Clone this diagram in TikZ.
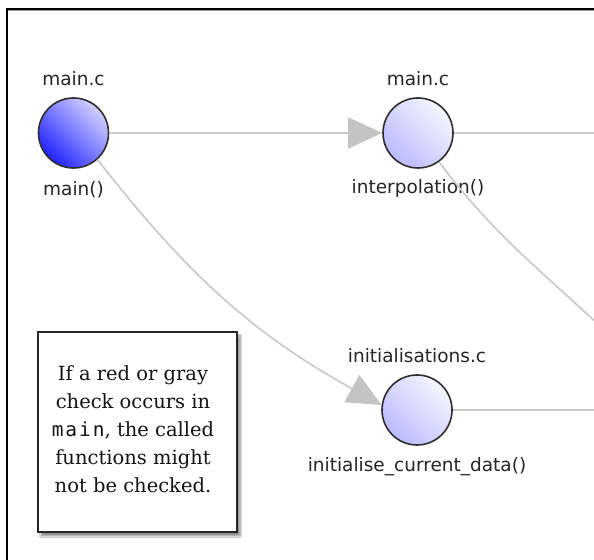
\documentclass[tikz,border=0pt]{standalone}
\usepackage{fontspec}
\usetikzlibrary{arrows.meta,shadows.blur}
\newfontfamily\lblfont{DejaVu Sans}
\newfontfamily\notefont{DejaVu Serif}
\newfontfamily\notemono[LetterSpace=10]{DejaVu Sans Mono}
\definecolor{edgegray}{RGB}{200,200,200}
\definecolor{headgray}{RGB}{196,196,196}
\definecolor{ringcol}{RGB}{45,45,45}
\definecolor{darkblue}{RGB}{35,35,255}
\definecolor{midblue}{RGB}{210,210,255}
\definecolor{paleblue}{RGB}{186,186,255}
\definecolor{whiteblue}{RGB}{246,246,255}
\tikzset{
  fnode/.style={circle, draw=ringcol, line width=1.6bp, minimum size=70bp, inner sep=0pt},
  rootfill/.style={top color=midblue, bottom color=darkblue, shading angle=-45},
  plainfill/.style={top color=whiteblue, bottom color=paleblue, shading angle=-45},
  lbl/.style={font=\lblfont\fontsize{18.5bp}{22bp}\selectfont, text=black!85, anchor=base, inner sep=0pt},
  edge/.style={draw=edgegray, line width=1.6bp},
  tip/.style={-{Triangle[length=34bp,width=31bp,color=headgray]}},
  notebox/.style={draw=black!85, line width=1.8bp, fill=white, minimum width=199bp, minimum height=200bp,
    blur shadow={shadow xshift=3bp, shadow yshift=-4bp, shadow blur steps=6, shadow opacity=45}},
  notetext/.style={font=\notefont\fontsize{19.5bp}{28bp}\selectfont, text=black!92, align=center, inner sep=0pt}
}
\begin{document}
\begin{tikzpicture}[x=1bp,y=1bp]
\useasboundingbox (0,0) rectangle (594,560);
\clip (0,0) rectangle (594,560);
\fill[white] (0,0) rectangle (594,560);
% frame
\draw[black, line width=2bp] (7,-20) -- (7,551) -- (640,551);
\draw[black!40, line width=1bp] (8,549.5) -- (640,549.5);
% function nodes
\node[fnode, rootfill] (main) at (73.5,427) {};
\node[fnode, plainfill] (interp) at (418,427) {};
\node[fnode, plainfill] (init) at (417,150) {};
% labels
\node[lbl] (mainfile) at ([yshift=47bp]main.center) {main.c};
\node[lbl] (mainfun) at ([yshift=-63bp]main.center) {main()};
\node[lbl] (interpfile) at ([yshift=47bp]interp.center) {main.c};
\node[lbl] (interpfun) at ([yshift=-61bp]interp.center) {interpolation()};
\node[lbl] (initfile) at ([yshift=47bp]init.center) {initialisations.c};
\node[lbl] (initfun) at ([yshift=-62bp]init.center) {initialise\_current\_data()};
% free ends off the right edge
\coordinate (r0) at (640,427);
\coordinate (r1) at (600,234);
\coordinate (r2) at (640,150);
% connectors
\draw[edge, tip] (main.east) -- (interp.west);
\draw[edge] (interp.east) -- (r0);
\draw[edge] (interp.-54) to[out=-53, in=137] (r1);
\draw[edge, tip] (main.-48) to[out=-52, in=151] (init.172);
\draw[edge] (init.east) -- (r2);
% note
\node[notebox] (note) at (137.5,128) {};
\node[notetext] (notetxt) at (133,131) {If a red or gray\\check occurs in\\{\notemono main}, the called\\functions might\\not be checked.};
\end{tikzpicture}
\end{document}
